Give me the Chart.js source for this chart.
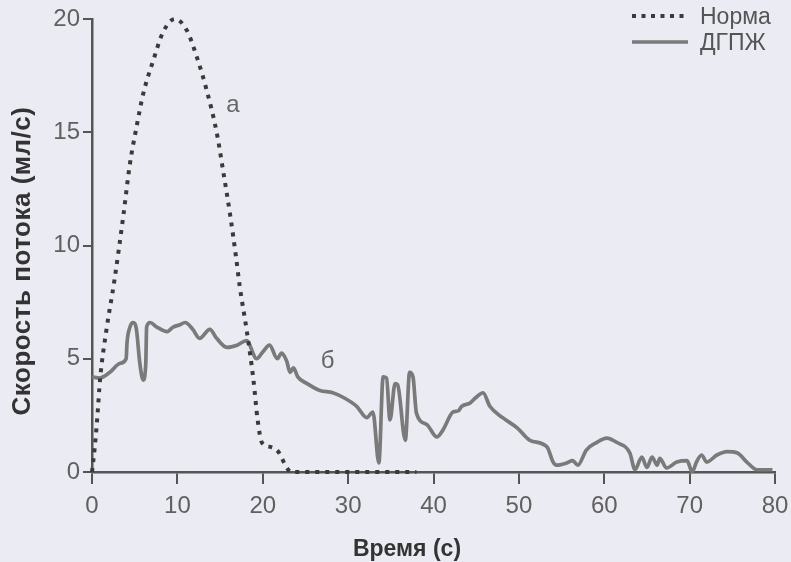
<!DOCTYPE html>
<html>
<head>
<meta charset="utf-8">
<script src="https://cdn.jsdelivr.net/npm/chart.js@4.4.1/dist/chart.umd.min.js"></script>
<style>
  body { margin: 0; background: #ebebf3; }
  canvas { display: block; }
</style>
</head>
<body>
<canvas id="chart" width="791" height="562"></canvas>
<script>
// Normal flow curve (dotted) - time in s, flow in ml/s
const normTime = [0, 0.3, 0.6, 0.95, 1.7, 2.6, 3.7, 4.4, 5.2, 6.0, 7.2, 8.3, 9.7, 11.1, 12.3, 13.4, 14.6, 15.4, 16.2, 16.9, 17.3, 18.1, 18.9, 19.4, 19.9, 21.0, 21.8, 22.8, 23.3, 30, 38];
const normFlow = [0, 1.0, 2.3, 4.1, 6.3, 8.4, 11.4, 13.5, 15.2, 16.7, 18.2, 19.4, 20.0, 19.5, 18.3, 16.9, 15.0, 13.2, 11.3, 9.4, 8.2, 6.3, 4.1, 2.3, 1.3, 1.1, 0.9, 0.2, 0, 0, 0];

// BPH flow curve (solid)
const bphTime = [0, 0.9, 2.1, 3.3, 4.0, 4.1, 4.45, 4.8, 5.2, 5.6, 6.0, 6.3, 6.4, 6.8, 7.6, 8.8, 9.5, 10.3, 10.9, 11.8,
  12.6, 13.8, 14.6, 15.8, 17.0, 18.1, 19.3, 20.0, 20.8, 21.7, 22.2, 22.8, 23.2, 23.6, 24.1, 25.2, 26.7, 28.2, 29.4, 31.0,
  32.2, 32.9, 33.6, 34.1, 34.5, 34.9, 35.5, 35.8, 36.7, 37.2, 37.6, 38.0, 39.2, 40.4, 41.1, 42.3, 42.9, 43.3, 44.3, 45.0,
  45.8, 46.6, 48.1, 49.8, 51.3, 53.3, 54.0, 54.4, 55.6, 56.3, 56.9, 57.9, 59.1, 60.3, 61.5, 63.0, 63.6, 64.4, 65.0, 65.6,
  66.2, 66.5, 67.3, 68.5, 69.7, 70.3, 70.8, 71.4, 72.0, 73.2, 74.4, 75.6, 76.7, 77.9, 79.7];
const bphFlow = [4.2, 4.15, 4.4, 4.8, 5.0, 5.7, 6.4, 6.6, 6.3, 4.8, 4.06, 4.8, 6.4, 6.6, 6.4, 6.2, 6.4, 6.5, 6.6, 6.3,
  5.9, 6.3, 5.9, 5.5, 5.6, 5.8, 5.0, 5.3, 5.6, 5.0, 5.25, 4.9, 4.4, 4.6, 4.2, 3.9, 3.6, 3.5, 3.3, 2.9,
  2.4, 2.65, 0.4, 4.2, 4.15, 2.3, 3.9, 3.85, 1.4, 4.4, 4.2, 2.6, 2.1, 1.55, 1.85, 2.65, 2.7, 2.9, 3.05, 3.3,
  3.5, 2.9, 2.4, 1.95, 1.4, 1.1, 0.45, 0.3, 0.4, 0.5, 0.3, 0.97, 1.3, 1.5, 1.3, 0.84, 0.1, 0.66, 0.2, 0.66,
  0.3, 0.6, 0.18, 0.44, 0.5, 0, 0.44, 0.75, 0.44, 0.75, 0.9, 0.84, 0.44, 0.1, 0.1];

const seriesNames = ['Норма', 'ДГПЖ'];
const xTitle = 'Время (с)';
const yTitle = 'Скорость потока (мл/с)';
// curve labels placed at data coordinates (baseline)
const curveLabels = [
  { text: 'а', x: 16.5, y: 15.9 },
  { text: 'б', x: 27.6, y: 4.6 }
];

const FONT = '"Liberation Sans", Arial, sans-serif';
const NORM_COLOR = '#3a3a3a';
const BPH_COLOR = '#7a7a7a';
const TICK_COLOR = '#606060';

const toPoints = (xs, ys) => xs.map((x, i) => ({ x: x, y: ys[i] }));

// fills page background, draws axis titles, the legend and the a/б labels
const extras = {
  id: 'extras',
  beforeDraw(chart) {
    const ctx = chart.ctx;
    ctx.save();
    ctx.fillStyle = '#ebebf3';
    ctx.fillRect(0, 0, chart.width, chart.height);
    ctx.restore();
  },
  afterDraw(chart) {
    const ctx = chart.ctx;
    const xs = chart.scales.x, ys = chart.scales.y;
    ctx.save();

    // axis titles
    ctx.fillStyle = '#333';
    ctx.font = 'bold 23px ' + FONT;
    ctx.textAlign = 'center';
    ctx.textBaseline = 'alphabetic';
    ctx.fillText(xTitle, 407, 556);
    ctx.save();
    ctx.translate(23, 261);
    ctx.rotate(-Math.PI / 2);
    ctx.font = 'bold 26px ' + FONT;
    ctx.letterSpacing = '0.5px';
    ctx.textBaseline = 'middle';
    ctx.fillText(yTitle, 0, 0);
    ctx.restore();

    // legend
    ctx.font = '23px ' + FONT;
    ctx.textBaseline = 'middle';
    ctx.textAlign = 'left';
    const lx0 = 632, lx1 = 688, tx = 700;
    ctx.strokeStyle = NORM_COLOR;
    ctx.lineWidth = 4;
    ctx.setLineDash([4, 5.5]);
    ctx.beginPath(); ctx.moveTo(lx0, 16); ctx.lineTo(lx1, 16); ctx.stroke();
    ctx.setLineDash([]);
    ctx.strokeStyle = BPH_COLOR;
    ctx.lineWidth = 3.5;
    ctx.beginPath(); ctx.moveTo(lx0, 42); ctx.lineTo(lx1, 42); ctx.stroke();
    ctx.fillStyle = '#555';
    ctx.fillText(seriesNames[0], tx, 18);
    ctx.fillText(seriesNames[1], tx, 44);

    // curve labels
    ctx.font = '24px ' + FONT;
    ctx.textAlign = 'center';
    ctx.textBaseline = 'alphabetic';
    ctx.fillStyle = '#666';
    curveLabels.forEach(l => ctx.fillText(l.text, xs.getPixelForValue(l.x), ys.getPixelForValue(l.y)));
    ctx.restore();
  }
};

new Chart(document.getElementById('chart'), {
  type: 'line',
  data: {
    datasets: [
      {
        label: seriesNames[0],
        data: toPoints(normTime, normFlow),
        borderColor: NORM_COLOR,
        borderWidth: 4,
        borderDash: [4, 6],
        borderCapStyle: 'butt',
        pointRadius: 0,
        cubicInterpolationMode: 'monotone',
        clip: false
      },
      {
        label: seriesNames[1],
        data: toPoints(bphTime, bphFlow),
        borderColor: BPH_COLOR,
        borderWidth: 3.7,
        pointRadius: 0,
        cubicInterpolationMode: 'monotone',
        borderJoinStyle: 'round',
        clip: false
      }
    ]
  },
  options: {
    responsive: false,
    animation: false,
    layout: { padding: { top: 19, right: 16, left: 0, bottom: 0 } },
    plugins: {
      legend: { display: false },
      tooltip: { enabled: false }
    },
    scales: {
      x: {
        type: 'linear',
        min: 0,
        max: 80,
        ticks: { stepSize: 10, color: TICK_COLOR, font: { family: FONT, size: 24 }, padding: 8 },
        grid: { drawOnChartArea: false, drawTicks: true, tickLength: 12, color: '#555', lineWidth: 2 },
        border: { display: true, color: '#555', width: 2.5 },
        afterFit(scale) {
          scale.height = 90;
          scale.paddingLeft = 0;
          scale.paddingRight = 0;
        }
      },
      y: {
        min: 0,
        max: 20,
        ticks: { stepSize: 5, color: TICK_COLOR, font: { family: FONT, size: 24 }, padding: 3 },
        grid: { drawOnChartArea: false, drawTicks: true, tickLength: 9, color: '#555', lineWidth: 2 },
        border: { display: true, color: '#555', width: 2.5 },
        afterFit(scale) {
          scale.width = 92;
          scale.paddingTop = 0;
          scale.paddingBottom = 0;
        }
      }
    }
  },
  plugins: [extras]
});
</script>
</body>
</html>
